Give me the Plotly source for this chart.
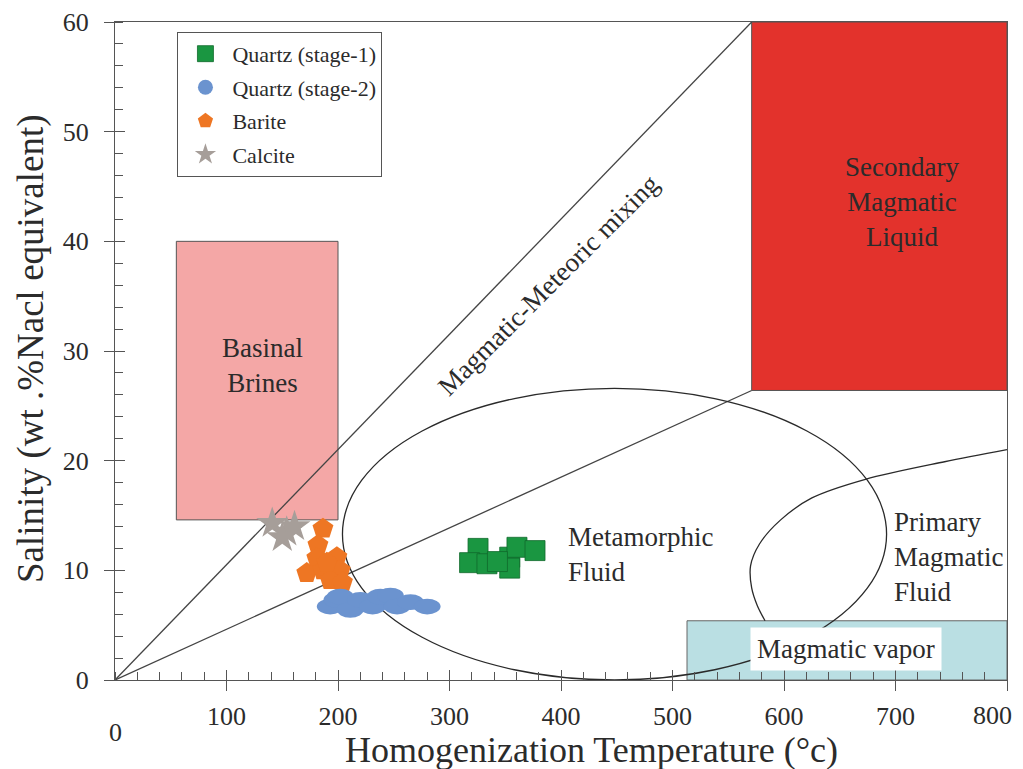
import plotly.graph_objects as go

# ---------------- data ----------------
q1_x = [325.6, 318, 333.6, 354, 360.5, 354, 376.7, 343]
q1_y = [12.0, 10.7, 10.6, 11.2, 12.1, 10.2, 11.8, 10.8]

q2_x = [193, 199, 202, 211, 220, 231, 238, 247, 253, 265, 280]
q2_y = [6.7, 7.3, 7.6, 6.4, 7.3, 6.7, 7.6, 7.7, 6.7, 7.1, 6.7]

barite_x = [186.5, 182, 199, 181, 172, 186.5, 202, 193, 204, 190]
barite_y = [13.8, 12.3, 11.2, 11.1, 9.75, 10.0, 10.0, 9.1, 8.9, 10.7]

calcite_x = [141, 154, 161, 150]
calcite_y = [14.3, 13.5, 14.0, 13.0]

# field boundaries (data coordinates)
basinal_box = [55, 200, 14.6, 40]          # x0, x1, y0, y1
secondary_box = [571, 800, 26.4, 60]
vapor_box = [513, 800, 0, 5.4]
metamorphic_ellipse = [204, 692, 0, 26.6]  # x0, x1, y0, y1
mixing_upper = [[0, 571], [0, 60]]
mixing_lower = [[0, 571], [0, 26.4]]
primary_x = [800, 744, 673, 625, 597, 578, 570, 571, 576, 583]
primary_y = [21.0, 19.9, 18.3, 16.6, 14.6, 12.4, 10.4, 8.4, 6.8, 5.4]

x_ticks = [100, 200, 300, 400, 500, 600, 700, 800]
y_ticks = [0, 10, 20, 30, 40, 50, 60]

FONT = "Liberation Serif"
TXT = "#2b2b2b"
AX = "#555555"

fig = go.Figure()

# blue ellipse half-sizes (style, in data units)
EW, EH = 12, 0.72

shapes = []
shapes.append(dict(type="rect", xref="x", yref="y", x0=basinal_box[0], x1=basinal_box[1],
                   y0=basinal_box[2], y1=basinal_box[3], fillcolor="#F4A7A6",
                   line=dict(color="#555555", width=1), layer="below"))
shapes.append(dict(type="rect", xref="x", yref="y", x0=secondary_box[0], x1=secondary_box[1],
                   y0=secondary_box[2], y1=secondary_box[3], fillcolor="#E3322C",
                   line=dict(color="#555555", width=1), layer="below"))
shapes.append(dict(type="rect", xref="x", yref="y", x0=vapor_box[0], x1=vapor_box[1],
                   y0=vapor_box[2], y1=vapor_box[3], fillcolor="#BADFE3",
                   line=dict(color="#666666", width=1), layer="below"))
for ln in (mixing_upper, mixing_lower):
    shapes.append(dict(type="line", xref="x", yref="y", x0=ln[0][0], x1=ln[0][1],
                       y0=ln[1][0], y1=ln[1][1], line=dict(color="#444444", width=1.3),
                       layer="below"))
shapes.append(dict(type="circle", xref="x", yref="y", x0=metamorphic_ellipse[0],
                   x1=metamorphic_ellipse[1], y0=metamorphic_ellipse[2],
                   y1=metamorphic_ellipse[3], line=dict(color="#2a2a2a", width=1.3),
                   fillcolor="rgba(0,0,0,0)", layer="below"))
for xv, yv in zip(q2_x, q2_y):
    shapes.append(dict(type="circle", xref="x", yref="y", x0=xv - EW, x1=xv + EW,
                       y0=yv - EH, y1=yv + EH, fillcolor="#6B93CF",
                       line=dict(width=0), layer="above"))

fig.add_trace(go.Scatter(x=primary_x, y=primary_y, mode="lines",
                         line=dict(color="#2a2a2a", width=1.3, shape="spline", smoothing=0.9),
                         showlegend=False, hoverinfo="skip"))

fig.add_trace(go.Scatter(x=q1_x, y=q1_y, mode="markers", name="Quartz (stage-1)", legendgroup="a",
                         marker=dict(symbol="square", size=20, color="#1A9641",
                                     line=dict(color="#106a2c", width=0.8))))
fig.add_trace(go.Scatter(x=[None], y=[None], mode="markers", name="Quartz (stage-2)", legendgroup="b",
                         marker=dict(symbol="circle", size=15, color="#6B93CF")))
fig.add_trace(go.Scatter(x=barite_x, y=barite_y, mode="markers", name="Barite", legendgroup="c",
                         marker=dict(symbol="pentagon", size=22, color="#EE7623", line=dict(width=0))))
fig.add_trace(go.Scatter(x=calcite_x, y=calcite_y, mode="markers", name="Calcite", legendgroup="d",
                         marker=dict(symbol="star", size=24, color="#A69E99", line=dict(width=0))))

fig.add_trace(go.Scatter(x=[None], y=[None], xaxis="x2", yaxis="y2", showlegend=False, hoverinfo="skip"))

ann = []
def lab(text, x, y, size=27, **kw):
    d = dict(text=text, x=x, y=y, xref="x", yref="y", showarrow=False,
             font=dict(family=FONT, size=size, color=TXT))
    d.update(kw)
    ann.append(d)

lab("Basinal<br>Brines", 132, 28.7)
lab("Secondary<br>Magmatic<br>Liquid", 706, 43.6)
lab("Metamorphic<br>Fluid", 404.5, 11.4, align="left", xanchor="left")
lab("Primary<br>Magmatic<br>Fluid", 697, 11.2, align="left", xanchor="left")
lab("Magmatic vapor", 656, 2.8, bgcolor="white", borderpad=6)
lab("Magmatic-Meteoric mixing", 389, 36.0, size=27, textangle=-45)
ann.append(dict(text="0", x=0, y=-0.055, xref="x", yref="paper", showarrow=False,
                yanchor="top", font=dict(family=FONT, size=26, color=TXT)))
# last x tick label kept inside the visible page
ann.append(dict(text=str(x_ticks[-1]), x=x_ticks[-1], y=-0.0547, xref="x", yref="paper",
                showarrow=False, xanchor="right", xshift=7, yanchor="middle",
                font=dict(family=FONT, size=26, color=TXT)))
# axis titles
ann.append(dict(text="Homogenization Temperature (°c)", x=427, y=-0.107, xref="x", yref="paper",
                showarrow=False, yanchor="middle", font=dict(family=FONT, size=36, color=TXT)))
ann.append(dict(text="Salinity (wt .%Nacl equivalent)", x=-0.094, y=30.2, xref="paper", yref="y",
                showarrow=False, xanchor="center", textangle=-90,
                font=dict(family=FONT, size=37, color=TXT)))

fig.update_layout(
    width=1015, height=761,
    margin=dict(l=107, r=16, t=14, b=89, autoexpand=False),
    paper_bgcolor="white", plot_bgcolor="white",
    font=dict(family=FONT, color=TXT),
    shapes=shapes, annotations=ann,
    showlegend=True,
    legend=dict(x=0.07, y=0.985, xanchor="left", yanchor="top",
                bordercolor="#555555", borderwidth=1, bgcolor="white",
                font=dict(family=FONT, size=22, color=TXT), itemwidth=44,
                traceorder="grouped", tracegroupgap=2, itemsizing="trace"),
    xaxis=dict(range=[0, 800], tickvals=x_ticks,
               ticktext=[str(v) for v in x_ticks[:-1]] + [""],
               ticks="outside", ticklen=10, tickcolor=AX, showline=True, linecolor=AX,
               linewidth=1.2, mirror=True, showgrid=False, zeroline=False, automargin=False,
               tickfont=dict(family=FONT, size=26, color=TXT), ticklabelstandoff=3,
               ticklabeloverflow="allow",
               minor=dict(ticks="inside", dtick=20, ticklen=8, tickcolor=AX)),
    yaxis=dict(range=[0, 60], tickvals=y_ticks, ticks="outside", ticklen=10, tickcolor=AX,
               showline=True, linecolor=AX, linewidth=1.2, mirror=True, showgrid=False,
               zeroline=False, automargin=False, tickfont=dict(family=FONT, size=26, color=TXT),
               ticklabelstandoff=10, ticklabeloverflow="allow",
               minor=dict(ticks="inside", dtick=2, ticklen=8, tickcolor=AX)),
    xaxis2=dict(range=[0, 800], overlaying="x", tickvals=x_ticks, ticks="inside", ticklen=10,
                tickcolor=AX, showticklabels=False, showgrid=False, zeroline=False,
                showline=False, side="bottom", anchor="y"),
    yaxis2=dict(range=[0, 60], overlaying="y", tickvals=y_ticks, ticks="inside", ticklen=10,
                tickcolor=AX, showticklabels=False, showgrid=False, zeroline=False,
                showline=False, side="left", anchor="x"),
)

fig.write_html("out.html")
